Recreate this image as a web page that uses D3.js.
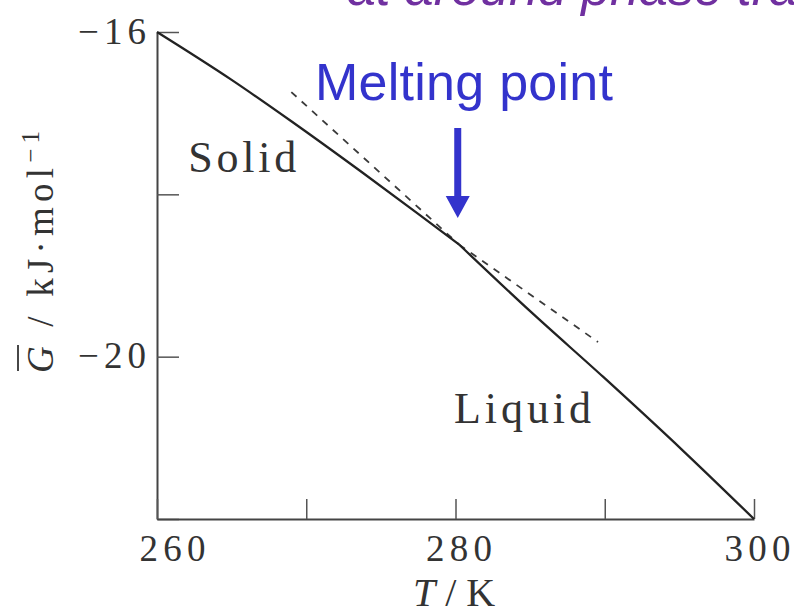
<!DOCTYPE html>
<html>
<head>
<meta charset="utf-8">
<script src="https://cdn.jsdelivr.net/npm/d3@7"></script>
<style>
  html, body { margin: 0; padding: 0; background: #ffffff; }
  svg { display: block; }
</style>
</head>
<body>
<svg id="chart" width="794" height="616"></svg>
<script>
// ---- data ----
const solidT = [260, 265, 269, 273.6, 277.5, 280.25];
const solidG = [-16, -16.59, -17.10, -17.71, -18.24, -18.62];
const liquidT = [280.25, 285, 289.9, 295.25, 300];
const liquidG = [-18.62, -19.44, -20.25, -21.16, -22];
const solidExtT = [280.25, 289.55];
const solidExtG = [-18.62, -19.82];
const liquidExtT = [269, 280.25];
const liquidExtG = [-16.74, -18.62];
const xTicks = [260, 270, 280, 290, 300];
const xTickLabels = [260, 280, 300];
const yTicks = [-16, -18, -20, -22];
const yTickLabels = [-16, -20];
const meltingT = 280.15;
const phaseLabels = ["Solid", "Liquid"];
const phaseLabelT = [262.1, 279.9];
const phaseLabelG = [-17.73, -20.82];

// ---- drawing ----
const svg = d3.select("#chart");
const ink = "#333333";
const serif = "'Liberation Serif', 'Times New Roman', serif";
const sans = "'Liberation Sans', Arial, sans-serif";

const x = d3.scaleLinear().domain([260, 300]).range([157, 754]);
const y = d3.scaleLinear().domain([-16, -22]).range([32, 519]);

// title fragment at top (cut off by the frame, as in the reference)
svg.append("text")
  .attr("x", 347).attr("y", 5)
  .attr("font-family", sans).attr("font-style", "italic")
  .attr("font-size", 52).attr("fill", "#7030a0")
  .text("at around phase transition");

// axes
const yAxis = d3.axisLeft(y).tickValues(yTicks).tickSizeInner(-22).tickSizeOuter(0).tickPadding(11)
  .tickFormat(d => yTickLabels.includes(d) ? d3.format("d")(d) : "");
const gy = svg.append("g").attr("transform", `translate(${x(260)},0)`).call(yAxis);

const xAxis = d3.axisBottom(x).tickValues(xTicks).tickSizeInner(-20).tickSizeOuter(0).tickPadding(16)
  .tickFormat(d => xTickLabels.includes(d) ? d3.format("d")(d) : "");
const gx = svg.append("g").attr("transform", `translate(0,${y(-22)})`).call(xAxis);

[gx, gy].forEach(g => {
  g.select(".domain").attr("stroke", "#444").attr("stroke-width", 2);
  g.selectAll(".tick line").attr("stroke", "#555").attr("stroke-width", 1.5);
  g.selectAll(".tick text").attr("fill", ink).attr("font-family", serif).attr("font-size", 37)
    .attr("lengthAdjust", "spacing");
});
gy.selectAll(".tick text").attr("textLength", d => yTickLabels.includes(d) ? 68 : null)
  .attr("dy", "0.3em");
gx.selectAll(".tick text").attr("textLength", d => xTickLabels.includes(d) ? 66 : null)
  .attr("dx", d => d === 260 ? 15 : 3);

// axis titles
svg.append("text")
  .attr("x", 454).attr("y", 606)
  .attr("text-anchor", "middle")
  .attr("font-family", serif).attr("font-size", 40).attr("fill", ink)
  .call(t => {
    t.append("tspan").attr("font-style", "italic").text("T");
    t.append("tspan").text(" / K");
  });

const ylab = svg.append("text")
  .attr("transform", "translate(53,373) rotate(-90)")
  .attr("x", 0).attr("y", 0)
  .attr("font-family", serif).attr("font-size", 37).attr("fill", ink)
  .attr("letter-spacing", 5.2);
ylab.append("tspan").attr("font-style", "italic").text("G");
ylab.append("tspan").text(" / kJ·mol");
ylab.append("tspan").attr("font-size", 25).attr("dy", -14).text("−1");
// overbar on G
svg.append("line")
  .attr("x1", 18).attr("x2", 18).attr("y1", 345).attr("y2", 371)
  .attr("stroke", ink).attr("stroke-width", 1.8);

// curves
const pairs = (ts, gs) => ts.map((t, i) => [t, gs[i]]);
const line = d3.line().x(d => x(d[0])).y(d => y(d[1]));
const smooth = d3.line().x(d => x(d[0])).y(d => y(d[1])).curve(d3.curveMonotoneX);

svg.append("path").datum(pairs(liquidExtT, liquidExtG))
  .attr("d", line).attr("fill", "none").attr("stroke", "#3a3a3a")
  .attr("stroke-width", 1.8).attr("stroke-dasharray", "7,7");
svg.append("path").datum(pairs(solidExtT, solidExtG))
  .attr("d", line).attr("fill", "none").attr("stroke", "#3a3a3a")
  .attr("stroke-width", 1.8).attr("stroke-dasharray", "7,7");

svg.append("path").datum(pairs(solidT, solidG))
  .attr("d", smooth).attr("fill", "none").attr("stroke", "#222").attr("stroke-width", 2.3);
svg.append("path").datum(pairs(liquidT, liquidG))
  .attr("d", smooth).attr("fill", "none").attr("stroke", "#222").attr("stroke-width", 2.3);

// phase labels
const phaseWidths = [108, 137];
svg.selectAll("text.phase").data(phaseLabels).enter().append("text")
  .attr("class", "phase")
  .attr("x", (d, i) => x(phaseLabelT[i]))
  .attr("y", (d, i) => y(phaseLabelG[i]))
  .attr("font-family", serif).attr("font-size", 44).attr("fill", ink)
  .attr("textLength", (d, i) => phaseWidths[i]).attr("lengthAdjust", "spacing")
  .text(d => d);

// melting point annotation
const blue = "#3333cc";
svg.append("text")
  .attr("x", 315).attr("y", 100)
  .attr("font-family", sans).attr("font-size", 52).attr("fill", blue)
  .attr("textLength", 298).attr("lengthAdjust", "spacing")
  .text("Melting point");
const ax = x(meltingT);
svg.append("path")
  .attr("d", `M${ax - 3.5},128 L${ax + 3.5},128 L${ax + 3.5},196 L${ax + 12},196 L${ax},218 L${ax - 12},196 L${ax - 3.5},196 Z`)
  .attr("fill", blue);
</script>
</body>
</html>
